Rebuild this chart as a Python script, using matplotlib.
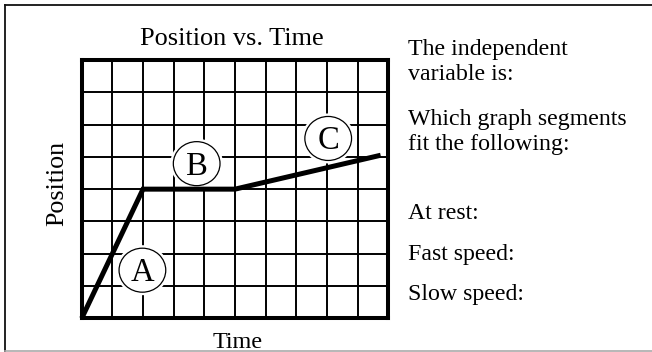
import matplotlib
matplotlib.use("Agg")
import matplotlib.pyplot as plt
from matplotlib.patches import Ellipse
from matplotlib.lines import Line2D

# Data
time_pts = [0, 2, 5, 9.75]
pos_pts = [0, 4, 4, 5.05]
seg_labels = ["A", "B", "C"]
seg_x = [1.98, 3.75, 8.04]
seg_y = [1.49, 4.79, 5.57]
title = "Position vs. Time"
xlabel = "Time"
ylabel = "Position"
side_lines = ["The independent", "variable is:", "Which graph segments",
              "fit the following:", "At rest:", "Fast speed:", "Slow speed:"]
side_baselines_px = [55, 80, 125, 150, 219, 260, 300]

W, H = 652, 352
fig = plt.figure(figsize=(W / 100, H / 100), dpi=100)
plt.rcParams['font.family'] = ['Liberation Serif', 'DejaVu Serif']

# outer border
fig.add_artist(Line2D([4.5 / W, 4.5 / W], [1 - 5 / H, 0], transform=fig.transFigure,
                      color='#111111', lw=1.3))
fig.add_artist(Line2D([4.5 / W, 1], [1 - 5 / H, 1 - 5 / H], transform=fig.transFigure,
                      color='#111111', lw=1.3))
fig.add_artist(Line2D([4.5 / W, 1], [0.8 / H, 0.8 / H], transform=fig.transFigure,
                      color='#aaaaaa', lw=1.2))

left, right, top, bottom = 81.7, 388.3, 60.0, 318.3
ax = fig.add_axes([left / W, 1 - bottom / H, (right - left) / W, (bottom - top) / H])
ax.set_xlim(0, 10)
ax.set_ylim(0, 8)
ax.set_xticks(range(11))
ax.set_yticks(range(9))
ax.tick_params(length=0, labelbottom=False, labelleft=False)
ax.grid(True, color='black', lw=1.4, zorder=0)
ax.set_axisbelow(True)
for s in ax.spines.values():
    s.set_linewidth(2.9)
    s.set_zorder(5)

# circles
px_x = (right - left) / 10.0
px_y = (bottom - top) / 8.0
cw, ch = 46.7, 44.0
halo = 6
for lab, cx, cy in zip(seg_labels, seg_x, seg_y):
    ax.add_patch(Ellipse((cx, cy), (cw + halo) / px_x, (ch + halo) / px_y,
                         facecolor='white', edgecolor='none', zorder=2))
    ax.add_patch(Ellipse((cx, cy), cw / px_x, ch / px_y,
                         facecolor='white', edgecolor='black', lw=0.9, zorder=3))
    ax.annotate(lab, xy=(cx, cy), xytext=(0, -7.9), textcoords='offset points',
                ha='center', va='baseline', fontsize=23.5, zorder=4)

ax.plot(time_pts, pos_pts, color='black', lw=3.6, solid_capstyle='butt',
        solid_joinstyle='miter', zorder=4, clip_on=False)

# texts
fig.text(232 / W, 1 - 45 / H, title, ha='center', va='baseline', fontsize=18.9)
fig.text(237.5 / W, 1 - 348 / H, xlabel, ha='center', va='baseline', fontsize=17.4)
fig.text(57 / W, 1 - 183 / H, ylabel, ha='center', va='center', rotation=90,
         fontsize=18.7)
for s, b in zip(side_lines, side_baselines_px):
    fig.text(408 / W, 1 - b / H, s, ha='left', va='baseline', fontsize=17.2)

fig.savefig("out.png", dpi=100)
